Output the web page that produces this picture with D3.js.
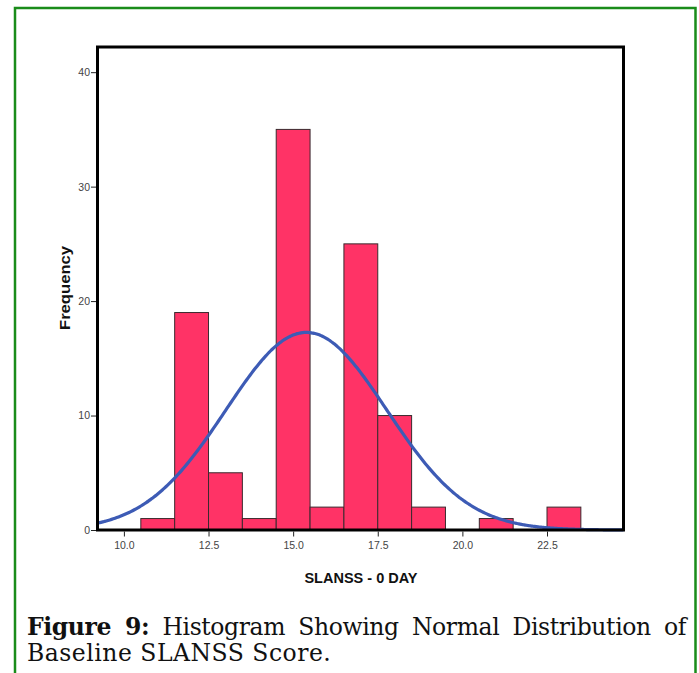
<!DOCTYPE html>
<html>
<head>
<meta charset="utf-8">
<script src="https://cdn.jsdelivr.net/npm/d3@7"></script>
<style>
  html, body { margin: 0; padding: 0; background: #fff; }
  #wrap { position: relative; width: 699px; height: 673px; overflow: hidden; }
  svg { position: absolute; left: 0; top: 0; }
  #caption {
    position: absolute; left: 27px; top: 615px; width: 659px;
    font-family: "DejaVu Serif", "Liberation Serif", serif;
    font-size: 23.5px; line-height: 25.5px; color: #111;
    letter-spacing: -0.4px;
  }
  #caption .l1 { display: block; text-align: justify; text-align-last: justify; white-space: nowrap; }
  #caption .l2 { display: block; text-align: left; letter-spacing: 0.5px; }
</style>
</head>
<body>
<div id="wrap">
  <svg id="chart" width="699" height="673"></svg>
  <div id="caption"></div>
</div>
<script>
// Data
const binStarts = [10.5, 11.5, 12.5, 13.5, 14.5, 15.5, 16.5, 17.5, 18.5, 19.5, 20.5, 21.5, 22.5];
const binWidth = 1;
const counts    = [1, 19, 5, 1, 35, 2, 25, 10, 2, 0, 1, 0, 2];
const xTicks = [10.0, 12.5, 15.0, 17.5, 20.0, 22.5];
const yTicks = [0, 10, 20, 30, 40];
const curveMean = 15.39;
const curveSD = 2.38;
const totalN = counts.reduce((a, b) => a + b, 0);
const captionBold = "Figure 9:";
const captionLine1 = "Histogram Showing Normal Distribution of";
const captionLine2 = "Baseline SLANSS Score.";

const cap = d3.select("#caption");
const l1 = cap.append("span").attr("class", "l1");
l1.append("b").text(captionBold);
l1.append("span").text(" " + captionLine1);
cap.append("span").attr("class", "l2").text(captionLine2);

const svg = d3.select("#chart");

// outer green frame
svg.append("path")
  .attr("d", "M15,700 L15,8 L695.5,8 L695.5,700")
  .attr("fill", "none").attr("stroke", "#1a8c1a").attr("stroke-width", 2.5);

const L = 97.5, R = 623.5, T = 47, B = 530;
const x = d3.scaleLinear().domain([9.22, 24.76]).range([L, R]);
const y = d3.scaleLinear().domain([0, 42.2]).range([B, T]);

// bars
svg.append("g").selectAll("rect")
  .data(binStarts.map((s, i) => ({ s, c: counts[i] })).filter(d => d.c > 0))
  .join("rect")
  .attr("x", d => x(d.s))
  .attr("width", d => x(d.s + binWidth) - x(d.s))
  .attr("y", d => y(d.c))
  .attr("height", d => y(0) - y(d.c))
  .attr("fill", "#ff3366")
  .attr("stroke", "#3a2a2e").attr("stroke-width", 1);

// normal curve
const pts = d3.range(0, 301).map(i => {
  const xv = 9.22 + (24.76 - 9.22) * i / 300;
  const z = (xv - curveMean) / curveSD;
  return [xv, totalN * binWidth / (curveSD * Math.sqrt(2 * Math.PI)) * Math.exp(-0.5 * z * z)];
});
svg.append("path")
  .datum(pts)
  .attr("d", d3.line().x(d => x(d[0])).y(d => y(d[1])).curve(d3.curveBasis))
  .attr("fill", "none").attr("stroke", "#3d5bb5").attr("stroke-width", 3.2);

// plot frame
svg.append("rect")
  .attr("x", L).attr("y", T).attr("width", R - L).attr("height", B - T)
  .attr("fill", "none").attr("stroke", "#000").attr("stroke-width", 3);

// axes
const xAxis = svg.append("g").attr("transform", `translate(0,${B + 1.5})`)
  .call(d3.axisBottom(x).tickValues(xTicks).tickFormat(d3.format(".1f")).tickSize(5).tickPadding(5));
const yAxis = svg.append("g").attr("transform", `translate(${L - 1.5},0)`)
  .call(d3.axisLeft(y).tickValues(yTicks).tickFormat(d3.format("d")).tickSize(5).tickPadding(1));
[xAxis, yAxis].forEach(g => {
  g.select(".domain").remove();
  g.selectAll("line").attr("stroke", "#222").attr("stroke-width", 1);
  g.selectAll("text").attr("fill", "#444")
    .style("font-family", "'Liberation Sans', Arial, sans-serif").style("font-size", "10.5px");
});

// axis titles
svg.append("text")
  .attr("x", 361).attr("y", 583).attr("text-anchor", "middle")
  .style("font-family", "'Liberation Sans', Arial, sans-serif")
  .style("font-size", "14.5px").style("font-weight", "bold").attr("fill", "#111")
  .text("SLANSS - 0 DAY");
svg.append("text")
  .attr("transform", "translate(70,288) rotate(-90)").attr("text-anchor", "middle")
  .style("font-family", "'Liberation Sans', Arial, sans-serif")
  .style("font-size", "15px").style("font-weight", "bold").attr("fill", "#111")
  .attr("textLength", 84).attr("lengthAdjust", "spacingAndGlyphs")
  .text("Frequency");
</script>
</body>
</html>
